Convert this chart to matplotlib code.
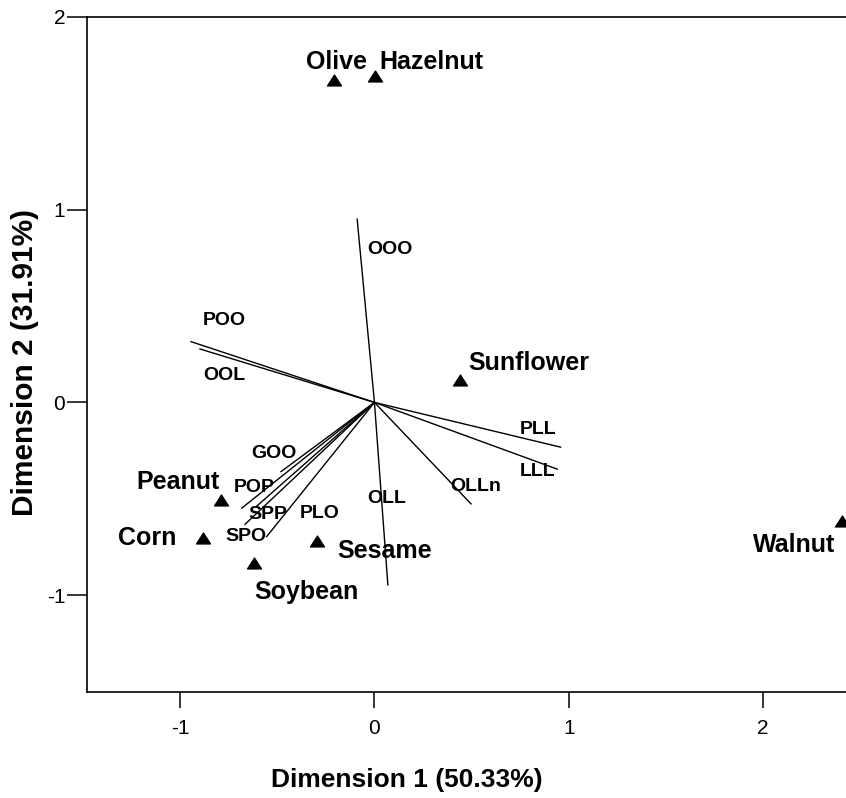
import matplotlib
matplotlib.use("Agg")
from matplotlib import pyplot as plt
from matplotlib.path import Path

plt.rcParams['font.family'] = ['Liberation Sans', 'DejaVu Sans']
plt.rcParams['axes.unicode_minus'] = False

# oils (sample scores)
oils = ['Olive', 'Hazelnut', 'Sunflower', 'Walnut', 'Peanut', 'Corn', 'Soybean', 'Sesame']
oil_x = [-0.208, 0.003, 0.440, 2.406, -0.792, -0.884, -0.622, -0.297]
oil_y = [1.672, 1.692, 0.117, -0.614, -0.505, -0.704, -0.834, -0.716]
oil_lab_x = [-0.193, 0.291, 0.797, 2.159, -1.013, -1.168, -0.349, 0.051]
oil_lab_y = [1.765, 1.765, 0.203, -0.739, -0.411, -0.704, -0.981, -0.773]

# triacylglycerols (variable loadings)
tags = ['OOO', 'OLL', 'POO', 'OOL', 'PLL', 'LLL', 'OLLn', 'GOO', 'POP', 'PLO', 'SPP', 'SPO']
tag_x = [-0.089, 0.069, -0.944, -0.898, 0.958, 0.941, 0.497, -0.481, -0.683, -0.605, -0.666, -0.555]
tag_y = [0.950, -0.946, 0.315, 0.277, -0.232, -0.346, -0.526, -0.359, -0.548, -0.537, -0.632, -0.696]
tag_lab_x = [0.082, 0.065, -0.771, -0.775, 0.843, 0.841, 0.523, -0.518, -0.617, -0.284, -0.551, -0.662]
tag_lab_y = [0.791, -0.497, 0.424, 0.137, -0.143, -0.359, -0.436, -0.267, -0.440, -0.574, -0.583, -0.696]

fig = plt.figure(figsize=(8.46, 7.98), dpi=100)
ax = fig.add_axes([0.1025, 0.1332, 0.9372, 0.8459])

for x, y in zip(tag_x, tag_y):
    ax.plot([0, x], [0, y], color='black', lw=1.0)
for name, x, y in zip(tags, tag_lab_x, tag_lab_y):
    ax.text(x, y, name, fontsize=14, fontweight='bold', ha='center', va='center')

tri = Path([(-1, -0.78), (1, -0.78), (0, 0.78), (-1, -0.78)],
           [Path.MOVETO, Path.LINETO, Path.LINETO, Path.CLOSEPOLY])
ax.plot(oil_x, oil_y, linestyle='none', marker=tri, markersize=10, color='black')
for name, x, y in zip(oils, oil_lab_x, oil_lab_y):
    ax.text(x, y, name, fontsize=18, fontweight='bold', ha='center', va='center')

ax.set_xlim(-1.481, 2.6)
ax.set_ylim(-1.5, 2)
ax.set_xticks([-1, 0, 1, 2])
ax.set_yticks([-1, 0, 1, 2])
ax.tick_params(axis='x', length=11.5, width=1.1, pad=8, labelsize=15)
ax.tick_params(axis='y', length=14.4, width=1.1, pad=1, labelsize=15)
for s in ax.spines.values():
    s.set_linewidth(1.2)

fig.text(407 / 846, 1 - 780 / 798, 'Dimension 1 (50.33%)', fontsize=19,
         fontweight='bold', ha='center', va='center')
fig.text(25 / 846, 1 - 362 / 798, 'Dimension 2 (31.91%)', fontsize=21.5,
         fontweight='bold', ha='center', va='center', rotation=90)

fig.savefig('out.png', dpi=100)
